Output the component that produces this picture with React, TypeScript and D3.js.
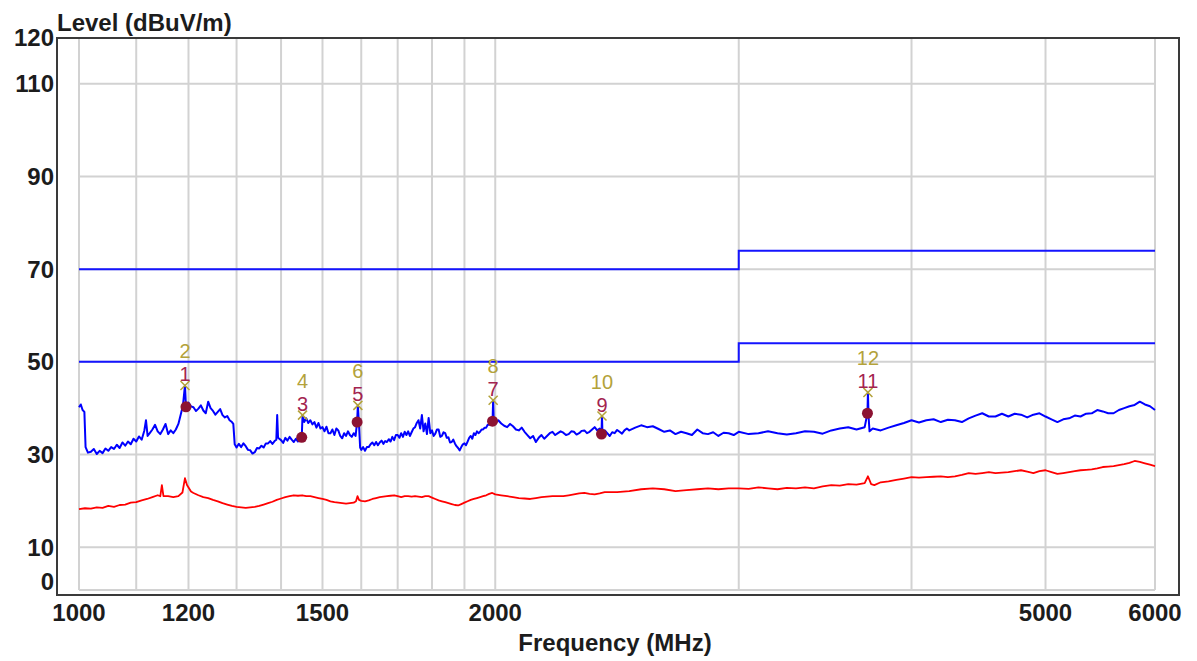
import React from "react";
import * as d3 from "d3";

// Axis ticks and grid
const yTickLabels = [120, 110, 90, 70, 50, 30, 10, 0];
const yGridLevels = [110, 90, 70, 50, 30, 10];
const xTickLabels = [1000, 1200, 1500, 2000, 5000, 6000];
const xGridFreqs = [1000, 1100, 1200, 1300, 1400, 1500, 1600, 1700, 1800, 1900, 2000, 3000, 4000, 5000, 6000];

// Limit lines (MHz, dBuV/m)
const limitHigh: [number, number][] = [[1000, 70], [3000, 70], [3000, 74], [6000, 74]];
const limitLow: [number, number][] = [[1000, 50], [3000, 50], [3000, 54], [6000, 54]];

// Peak-detector sweep (MHz, dBuV/m)
const peakTrace: [number, number][] = [
  [1000, 40.2], [1003, 40.8], [1006, 39.6], [1009, 39.2], [1011, 31.6], [1015, 30.4], [1020, 30.6], [1025, 31.2],
  [1030, 30.1], [1035, 30.8], [1040, 30.3], [1045, 31.3], [1050, 30.8], [1055, 31.6], [1060, 31.2], [1065, 32.1],
  [1070, 31.4], [1075, 32.6], [1080, 31.9], [1085, 32.8], [1090, 32.2], [1095, 33.4], [1100, 32.8], [1105, 33.9],
  [1110, 33.2], [1115, 35.2], [1118, 37.4], [1121, 34.0], [1125, 34.6], [1130, 35.4], [1135, 36.4], [1140, 35.0],
  [1145, 34.4], [1150, 35.4], [1155, 36.6], [1160, 34.4], [1165, 35.2], [1170, 34.6], [1175, 35.4], [1180, 36.6],
  [1185, 38.8], [1189, 40.6], [1193, 44.9], [1195, 40.3], [1200, 41.2], [1205, 40.4], [1210, 40.2], [1215, 39.4],
  [1220, 39.9], [1225, 40.6], [1230, 39.5], [1235, 38.9], [1240, 41.4], [1245, 40.0], [1250, 39.4], [1255, 38.6],
  [1260, 39.2], [1265, 39.8], [1270, 38.5], [1275, 38.0], [1280, 38.3], [1285, 37.4], [1290, 37.0], [1293, 36.6],
  [1296, 32.2], [1300, 31.5], [1305, 32.3], [1310, 31.6], [1315, 32.4], [1320, 31.8], [1325, 31.0], [1330, 30.9],
  [1335, 30.2], [1340, 30.5], [1345, 31.4], [1350, 31.3], [1355, 31.9], [1360, 31.5], [1365, 32.4], [1370, 32.4],
  [1375, 32.9], [1380, 32.3], [1385, 32.9], [1389, 33.2], [1391, 38.5], [1393, 33.6], [1400, 33.1], [1405, 32.5],
  [1410, 33.6], [1415, 33.0], [1420, 33.8], [1425, 33.2], [1430, 32.7], [1435, 33.4], [1440, 32.8], [1445, 33.6],
  [1449, 33.7], [1451, 38.5], [1455, 37.0], [1460, 37.8], [1465, 36.8], [1470, 37.4], [1475, 36.5], [1480, 37.0],
  [1485, 35.8], [1490, 36.8], [1495, 35.6], [1500, 35.9], [1505, 35.0], [1510, 36.0], [1515, 34.6], [1520, 34.6],
  [1525, 35.4], [1530, 34.2], [1535, 35.6], [1540, 35.2], [1545, 34.0], [1550, 33.5], [1555, 34.6], [1560, 34.0],
  [1565, 35.0], [1570, 34.2], [1575, 33.8], [1580, 34.6], [1585, 34.0], [1589, 37.0], [1591, 40.6], [1594, 36.5],
  [1597, 31.5], [1600, 31.0], [1605, 31.6], [1610, 30.8], [1615, 31.6], [1620, 31.6], [1625, 32.2], [1630, 32.6],
  [1635, 32.0], [1640, 32.7], [1645, 32.0], [1650, 32.6], [1655, 33.0], [1660, 32.3], [1665, 32.9], [1670, 32.7],
  [1675, 33.3], [1680, 32.8], [1685, 33.8], [1690, 33.1], [1695, 34.2], [1700, 34.2], [1705, 33.6], [1710, 34.6],
  [1715, 33.8], [1720, 34.9], [1725, 34.2], [1730, 35.0], [1735, 34.0], [1740, 34.8], [1745, 35.6], [1750, 35.9],
  [1755, 36.8], [1760, 37.4], [1765, 35.6], [1770, 38.5], [1775, 35.0], [1780, 36.7], [1785, 34.4], [1790, 37.9],
  [1795, 34.6], [1800, 35.2], [1805, 34.0], [1810, 34.5], [1815, 35.4], [1820, 35.4], [1825, 33.8], [1830, 34.0],
  [1835, 34.8], [1840, 34.6], [1845, 33.6], [1850, 33.7], [1855, 32.6], [1860, 32.7], [1865, 33.2], [1870, 32.4],
  [1875, 31.8], [1880, 31.4], [1885, 30.9], [1890, 31.6], [1895, 32.2], [1900, 32.4], [1905, 32.0], [1910, 32.8],
  [1915, 33.6], [1920, 34.0], [1925, 33.4], [1930, 34.6], [1935, 34.2], [1940, 35.0], [1945, 34.6], [1950, 34.9],
  [1955, 35.4], [1960, 35.4], [1965, 35.8], [1970, 35.8], [1975, 36.4], [1980, 36.4], [1985, 36.8], [1991, 37.2],
  [1993, 41.7], [1995, 37.4], [2000, 36.8], [2010, 37.4], [2020, 36.7], [2030, 36.2], [2040, 35.9], [2050, 36.6],
  [2060, 36.1], [2070, 35.4], [2080, 35.2], [2090, 35.8], [2100, 34.9], [2110, 34.2], [2120, 33.5], [2130, 34.0],
  [2140, 32.7], [2150, 33.6], [2160, 34.2], [2170, 33.4], [2180, 34.0], [2190, 34.6], [2200, 34.9], [2210, 34.2],
  [2220, 34.6], [2230, 35.0], [2240, 34.7], [2250, 34.2], [2260, 34.4], [2270, 35.0], [2280, 34.9], [2290, 34.3],
  [2300, 34.6], [2310, 35.1], [2320, 35.2], [2330, 34.6], [2340, 34.9], [2350, 35.4], [2360, 35.9], [2370, 35.2],
  [2380, 35.6], [2387, 34.4], [2389, 38.3], [2391, 34.4], [2400, 35.2], [2410, 34.6], [2420, 34.0], [2430, 34.8],
  [2440, 34.6], [2450, 35.3], [2460, 34.9], [2470, 34.5], [2480, 35.2], [2490, 35.6], [2500, 35.2], [2525, 35.8],
  [2550, 36.3], [2575, 35.9], [2600, 36.1], [2625, 35.5], [2650, 34.9], [2675, 35.2], [2700, 34.4], [2725, 34.9],
  [2750, 34.6], [2775, 34.2], [2800, 35.4], [2825, 34.6], [2850, 34.4], [2875, 34.8], [2900, 34.0], [2925, 34.7],
  [2950, 34.6], [2975, 34.2], [3000, 34.9], [3050, 34.4], [3100, 34.6], [3150, 35.0], [3200, 34.6], [3250, 34.3],
  [3300, 34.6], [3350, 35.0], [3400, 34.9], [3450, 34.5], [3500, 35.2], [3550, 35.6], [3600, 35.9], [3650, 35.4],
  [3700, 35.9], [3717, 38.9], [3720, 43.4], [3724, 38.2], [3730, 35.0], [3750, 35.6], [3800, 35.2], [3850, 35.8],
  [3900, 36.3], [3950, 36.8], [4000, 37.4], [4050, 36.9], [4100, 37.4], [4150, 37.6], [4200, 37.0], [4250, 37.5],
  [4300, 37.4], [4350, 37.0], [4400, 37.8], [4450, 38.4], [4500, 38.9], [4550, 38.2], [4600, 38.2], [4650, 38.8],
  [4700, 38.2], [4750, 38.8], [4800, 38.6], [4850, 38.0], [4900, 38.6], [4950, 38.9], [5000, 38.2], [5050, 37.6],
  [5100, 37.0], [5150, 37.6], [5200, 37.8], [5250, 38.4], [5300, 38.2], [5350, 38.8], [5400, 38.9], [5450, 39.6],
  [5500, 39.3], [5550, 38.9], [5600, 38.9], [5650, 39.6], [5700, 40.0], [5750, 40.4], [5800, 40.7], [5850, 41.4],
  [5900, 40.8], [5950, 40.4], [6000, 39.6],
];

// Average-detector sweep (MHz, dBuV/m)
const avgTrace: [number, number][] = [
  [1000, 18.2], [1010, 18.4], [1020, 18.3], [1030, 18.6], [1040, 18.5], [1050, 18.9], [1060, 18.7], [1070, 19.1],
  [1080, 19.2], [1090, 19.6], [1100, 19.7], [1110, 20.1], [1120, 20.4], [1130, 20.8], [1140, 21.2], [1145, 21.0],
  [1148, 23.4], [1151, 21.0], [1160, 21.0], [1170, 20.8], [1180, 21.0], [1188, 21.8], [1193, 24.9], [1197, 23.4],
  [1205, 22.0], [1210, 21.7], [1220, 21.2], [1230, 20.8], [1240, 20.6], [1250, 20.2], [1260, 19.9], [1270, 19.5],
  [1280, 19.2], [1290, 18.9], [1300, 18.7], [1310, 18.6], [1320, 18.5], [1330, 18.6], [1340, 18.7], [1350, 18.9],
  [1360, 19.2], [1370, 19.5], [1380, 19.8], [1390, 20.2], [1400, 20.5], [1410, 20.8], [1420, 21.0], [1430, 21.2],
  [1440, 21.1], [1450, 21.2], [1460, 21.0], [1470, 21.0], [1480, 20.8], [1490, 20.6], [1500, 20.4], [1510, 20.2],
  [1520, 19.9], [1530, 19.7], [1540, 19.6], [1550, 19.5], [1560, 19.4], [1570, 19.5], [1580, 19.6], [1586, 19.9],
  [1590, 21.0], [1594, 20.2], [1600, 20.0], [1610, 19.9], [1620, 20.1], [1630, 20.4], [1640, 20.6], [1650, 20.8],
  [1660, 20.9], [1670, 21.0], [1680, 21.1], [1690, 21.2], [1700, 21.0], [1710, 20.8], [1720, 21.0], [1730, 21.0],
  [1740, 20.9], [1750, 21.0], [1760, 20.9], [1770, 20.8], [1780, 21.0], [1790, 21.0], [1800, 20.7], [1810, 20.4],
  [1820, 20.1], [1830, 19.9], [1840, 19.7], [1850, 19.5], [1860, 19.3], [1870, 19.1], [1880, 19.0], [1890, 19.3],
  [1900, 19.6], [1910, 19.9], [1920, 20.2], [1930, 20.4], [1940, 20.6], [1950, 20.8], [1960, 21.0], [1970, 21.2],
  [1980, 21.5], [1990, 21.7], [2000, 21.4], [2020, 21.2], [2040, 21.0], [2060, 20.8], [2080, 20.6], [2100, 20.5],
  [2120, 20.4], [2140, 20.6], [2160, 20.8], [2180, 20.9], [2200, 21.0], [2220, 21.0], [2240, 21.0], [2260, 21.2],
  [2280, 21.4], [2300, 21.6], [2320, 21.7], [2340, 21.5], [2360, 21.4], [2380, 21.6], [2400, 21.9], [2450, 21.9],
  [2500, 22.1], [2550, 22.5], [2600, 22.7], [2650, 22.5], [2700, 22.1], [2750, 22.3], [2800, 22.5], [2850, 22.7],
  [2900, 22.5], [2950, 22.7], [3000, 22.7], [3050, 22.6], [3100, 22.9], [3150, 22.7], [3200, 22.5], [3250, 22.8],
  [3300, 22.7], [3350, 22.9], [3400, 22.7], [3450, 23.1], [3500, 23.4], [3550, 23.3], [3600, 23.6], [3650, 23.5],
  [3700, 23.8], [3720, 25.3], [3740, 23.6], [3760, 23.4], [3800, 24.0], [3850, 24.2], [3900, 24.5], [3950, 24.8],
  [4000, 25.1], [4050, 25.0], [4100, 25.1], [4150, 25.2], [4200, 25.3], [4250, 25.1], [4300, 25.3], [4350, 25.6],
  [4400, 26.0], [4450, 25.8], [4500, 26.0], [4550, 26.2], [4600, 26.0], [4650, 26.1], [4700, 26.2], [4750, 26.4],
  [4800, 26.6], [4850, 26.3], [4900, 26.0], [4950, 26.4], [5000, 26.6], [5050, 26.2], [5100, 25.8], [5150, 26.0],
  [5200, 26.2], [5250, 26.4], [5300, 26.6], [5350, 26.7], [5400, 26.8], [5450, 27.0], [5500, 27.3], [5550, 27.4],
  [5600, 27.5], [5650, 27.7], [5700, 27.9], [5750, 28.2], [5800, 28.6], [5850, 28.4], [5900, 28.1], [5950, 27.8],
  [6000, 27.5],
];

// Marked emissions: peak readings (even numbers) and final readings (odd numbers)
const peakMarkers = [
  { id: 2, freq: 1193, level: 44.9 },
  { id: 4, freq: 1451, level: 38.5 },
  { id: 6, freq: 1591, level: 40.6 },
  { id: 8, freq: 1993, level: 41.7 },
  { id: 10, freq: 2389, level: 38.3 },
  { id: 12, freq: 3720, level: 43.4 },
];
const finalMarkers = [
  { id: 1, freq: 1195, level: 40.3 },
  { id: 3, freq: 1449, level: 33.7 },
  { id: 5, freq: 1589, level: 37.0 },
  { id: 7, freq: 1991, level: 37.2 },
  { id: 9, freq: 2387, level: 34.4 },
  { id: 11, freq: 3717, level: 38.9 },
];

const FONT = "'Liberation Sans', Arial, Helvetica, sans-serif";
const TEXT = "#1c1c1c";
const OLIVE = "#b3a23a";
const MAROON = "#a3244f";

export default function App() {
  const x = d3.scaleLog().domain([1000, 6000]).range([79, 1155]);
  const y = d3.scaleLinear().domain([0, 120]).range([593.5, 37.5]);

  const frame = { left: 57, top: 38, right: 1179, bottom: 595 };
  const gridBottom = 590;

  const line = d3
    .line<[number, number]>()
    .x((d) => x(d[0]))
    .y((d) => y(d[1]));

  const crossPath = d3.symbol(d3.symbolX, 55)() as string;

  return (
    <svg
      width={1197}
      height={661}
      style={{ position: "absolute", left: 0, top: 0, background: "#fff" }}
      fontFamily={FONT}
    >
      {/* title */}
      <text x={57} y={31} fontSize={24} fontWeight="bold" fill={TEXT}>
        Level (dBuV/m)
      </text>

      {/* grid */}
      <g stroke="#d2d2d2" strokeWidth={2}>
        {xGridFreqs.map((f) => (
          <line key={"vx" + f} x1={x(f)} x2={x(f)} y1={frame.top} y2={gridBottom} />
        ))}
        {yGridLevels.map((v) => (
          <line key={"hy" + v} x1={x(1000)} x2={x(6000)} y1={y(v)} y2={y(v)} />
        ))}
        <line x1={x(1000)} x2={x(6000)} y1={gridBottom} y2={gridBottom} />
      </g>

      {/* frame */}
      <path
        d={`M${frame.left},${frame.bottom}V${frame.top}H${frame.right}V${frame.bottom}Z`}
        fill="none"
        stroke="#3a3a3a"
        strokeWidth={2}
      />

      {/* y tick labels */}
      <g fontSize={24} fontWeight="bold" fill={TEXT} textAnchor="end">
        {yTickLabels.map((v) => (
          <text key={"yl" + v} x={54} y={v === 0 ? y(v) - 12 : y(v)} dy="0.36em">
            {v}
          </text>
        ))}
      </g>

      {/* x tick labels */}
      <g fontSize={24} fontWeight="bold" fill={TEXT} textAnchor="middle">
        {xTickLabels.map((f) => (
          <text key={"xl" + f} x={x(f)} y={621}>
            {f}
          </text>
        ))}
      </g>
      <text x={615} y={651} fontSize={24} fontWeight="bold" fill={TEXT} textAnchor="middle">
        Frequency (MHz)
      </text>

      {/* limit lines */}
      <path d={line(limitHigh) as string} fill="none" stroke="#1414ff" strokeWidth={2} />
      <path d={line(limitLow) as string} fill="none" stroke="#1414ff" strokeWidth={2} />

      {/* sweeps */}
      <path d={line(avgTrace) as string} fill="none" stroke="#ff0000" strokeWidth={1.8} strokeLinejoin="round" />
      <path d={line(peakTrace) as string} fill="none" stroke="#0000ff" strokeWidth={2} strokeLinejoin="round" />

      {/* final reading dots */}
      {finalMarkers.map((m) => (
        <circle key={"fm" + m.id} cx={x(m.freq)} cy={y(m.level)} r={5.5} fill="#8c1232" />
      ))}

      {/* peak crosses */}
      {peakMarkers.map((m) => (
        <path
          key={"pm" + m.id}
          d={crossPath}
          transform={`translate(${x(m.freq)},${y(m.level)})`}
          fill="none"
          stroke={OLIVE}
          strokeWidth={1.5}
        />
      ))}

      {/* marker numbers */}
      <g fontSize={20} textAnchor="middle">
        {peakMarkers.map((m, i) => (
          <g key={"lbl" + m.id}>
            <text x={x(m.freq)} y={y(m.level) - 4} fill={MAROON}>
              {finalMarkers[i].id}
            </text>
            <text x={x(m.freq)} y={y(m.level) - 27} fill={OLIVE}>
              {m.id}
            </text>
          </g>
        ))}
      </g>
    </svg>
  );
}
